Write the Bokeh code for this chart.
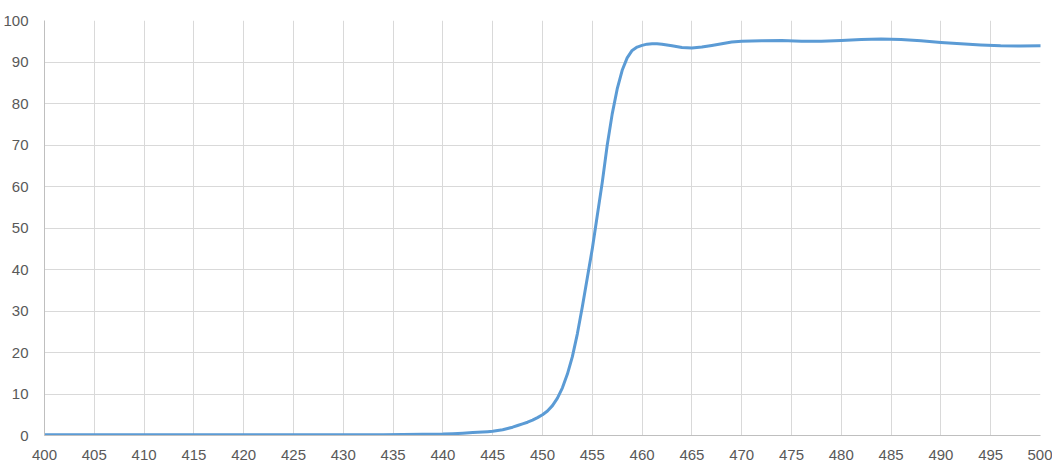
from bokeh.plotting import figure
from bokeh.models import SingleIntervalTicker, Range1d, ColumnDataSource
from bokeh.embed import file_html
from bokeh.resources import INLINE

# Wavelength (nm) and transmission (%)
wavelength = [400, 402, 404, 406, 408, 410, 412, 414, 416, 418, 420, 422, 424, 426, 428,
              430, 432, 434, 436, 438, 440, 441, 442, 443, 444, 444.5, 445, 445.5, 446, 446.5,
              447, 447.5, 448, 448.5, 449, 449.5, 450, 450.5, 451, 451.5, 452, 452.5, 453, 453.5,
              454, 454.5, 455, 455.5, 456, 456.5, 457, 457.5, 458, 458.5, 459, 459.5, 460, 460.5,
              461, 461.5, 462, 463, 464, 465, 466, 467, 468, 469, 470, 472, 474, 476, 478, 480,
              482, 484, 486, 488, 490, 492, 494, 496, 498, 500]
transmission = [0.2, 0.2, 0.2, 0.2, 0.2, 0.2, 0.2, 0.2, 0.2, 0.2, 0.2, 0.2, 0.2, 0.2, 0.2,
                0.2, 0.2, 0.2, 0.25, 0.3, 0.35, 0.45, 0.55, 0.7, 0.85, 0.92, 1.0, 1.2, 1.4, 1.7,
                2.0, 2.4, 2.8, 3.2, 3.7, 4.3, 5.0, 5.9, 7.2, 9.0, 11.5, 14.8, 19.0, 24.5,
                31.0, 38.0, 45.0, 53.0, 61.0, 70.0, 77.5, 83.5, 88.0, 91.0, 92.8, 93.6, 94.0, 94.3,
                94.4, 94.4, 94.3, 93.9, 93.5, 93.4, 93.6, 94.0, 94.4, 94.8, 95.0, 95.1, 95.2, 95.0, 95.0, 95.2,
                95.4, 95.55, 95.4, 95.1, 94.7, 94.4, 94.1, 93.9, 93.85, 93.9]

x_interval = 5
y_interval = 10

src = ColumnDataSource(dict(x=wavelength, y=transmission))

p = figure(width=1052, height=463, output_backend="svg", toolbar_location=None,
           x_range=Range1d(400, 500), y_range=Range1d(0, 100),
           min_border_left=44, min_border_right=12, min_border_top=20, min_border_bottom=28)
p.outline_line_color = None
p.background_fill_color = "white"
p.border_fill_color = "white"

p.line("x", "y", source=src, line_color="#5B9BD5", line_width=3, line_join="round", line_cap="round")

for ax in (p.xaxis[0], p.yaxis[0]):
    ax.major_tick_line_color = None
    ax.minor_tick_line_color = None
    ax.axis_line_color = "#bfbfbf"
    ax.axis_line_width = 1
    ax.major_label_text_font = "Liberation Sans"
    ax.major_label_text_font_size = "15px"
    ax.major_label_text_color = "#595959"

p.xaxis[0].ticker = SingleIntervalTicker(interval=x_interval)
p.yaxis[0].ticker = SingleIntervalTicker(interval=y_interval)
p.xaxis[0].major_label_standoff = 8
p.yaxis[0].major_label_standoff = 10

p.xgrid[0].ticker = SingleIntervalTicker(interval=x_interval)
p.ygrid[0].ticker = SingleIntervalTicker(interval=y_interval)
for g in (p.xgrid[0], p.ygrid[0]):
    g.grid_line_color = "#d9d9d9"
    g.grid_line_width = 1

open("out.html", "w").write(file_html(p, INLINE))
